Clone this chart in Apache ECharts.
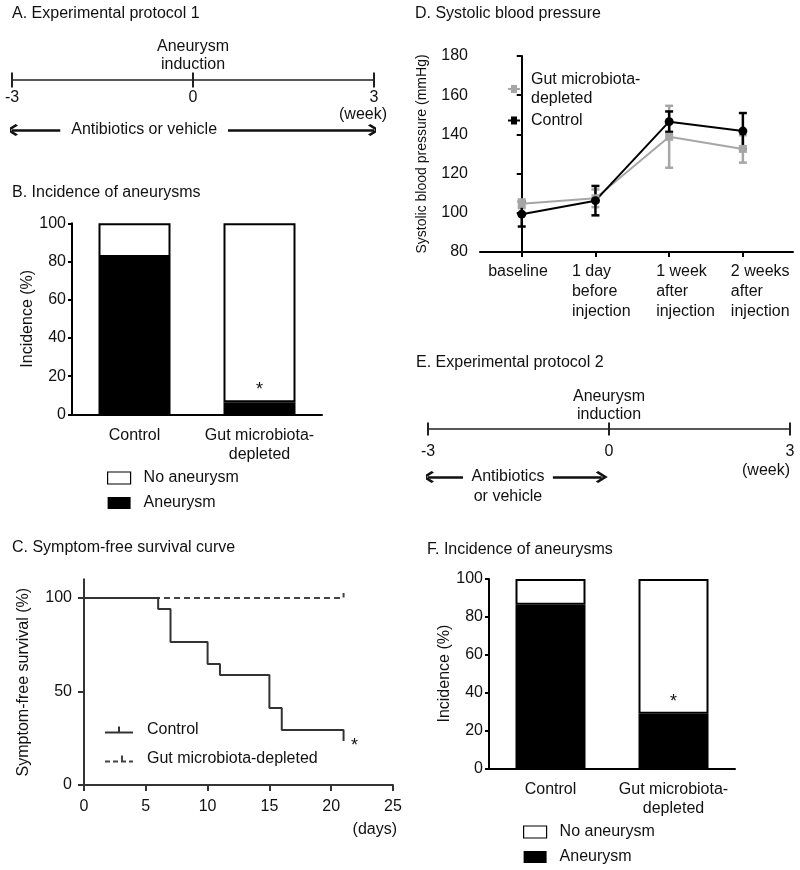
<!DOCTYPE html>
<html><head><meta charset="utf-8">
<script src="https://cdn.jsdelivr.net/npm/echarts@6/dist/echarts.min.js"></script>
<style>html,body{margin:0;padding:0;background:#fff}#c{width:800px;height:870px}</style>
</head><body><div id="c"></div>
<script>
// ---------- data ----------
const protocolTicks = [-3, 0, 3];
const protocolUnit = '(week)';
const inductionWeek = [0];
const inductionText = 'Aneurysm\ninduction';
const protocol1Arrows = [[-2.2, -3], [0.58, 3]];
const protocol1Text = 'Antibiotics or vehicle';
const protocol2Arrows = [[-2.42, -3], [-0.93, -0.12]];
const protocol2Text = 'Antibiotics\nor vehicle';

const incidenceCategories = ['Control', 'Gut microbiota-\ndepleted'];
const aneurysmB = [82.4, 6.3];
const aneurysmF = [86.4, 28.8];
const significanceB = ['', '*'];
const significanceF = ['', '*'];
const legendBars = ['No aneurysm', 'Aneurysm'];

const survivalControl = [[0,100],[6,94.1],[7,76.5],[10,64.7],[11,58.8],[15,41.2],[16,29.4],[21,23.5]];
const survivalDepleted = [[0,100],[21,100],[21,102.7]];
const survivalTicks = [0, 50, 100];
const survivalUnit = '(days)';
const survivalSignificance = '*';

const bpCategories = ['baseline', '1 day\nbefore\ninjection', '1 week\nafter\ninjection', '2 weeks\nafter\ninjection'];
const bpIndex = [0, 1, 2, 3];
const bpDepletedMean = [104.6, 107.4, 138.8, 132.6];
const bpDepletedSem  = [2.2, 4.5, 15.8, 7.0];
const bpControlMean  = [99.3, 106.2, 146.5, 141.7];
const bpControlSem   = [6.3, 7.5, 5.2, 9.2];

// ---------- styling ----------
const FONT = '"Liberation Sans", Arial, Helvetica, sans-serif';
const TXT = '#111';
const CHEVRON = 'path://M10,0 L20,10 L17.5,12.5 L10,5 L2.5,12.5 L0,10 Z';
const ICON_SOLID = 'path://M0,5 L28,5 L28,7 L0,7 Z M13,0 L15,0 L15,5 L13,5 Z';
const ICON_DASH = 'path://M0,5 L5,5 L5,7 L0,7 Z M8,5 L13,5 L13,7 L8,7 Z M16,0 L18,0 L18,5 L21,5 L21,7 L16,7 Z M24,5 L28,5 L28,7 L24,7 Z';
const ICON_MARK = 'path://M0,3 L12,3 L12,5 L0,5 Z M3,0 L9,0 L9,8 L3,8 Z';
const HIDDEN = {color:'rgba(0,0,0,0)', opacity:1};

function timelineX(gridIndex, offset, margin, nameGap, namePad) {
  return {type:'value', gridIndex, min:-3, max:3, interval:3, offset,
    axisLine:{onZero:false, lineStyle:{color:'#222', width:1.5}},
    axisTick:{show:false}, splitLine:{show:false},
    axisLabel:{fontSize:16, color:TXT, margin},
    name: protocolUnit, nameLocation:'end', nameGap, nameMoveOverlap:false,
    nameTextStyle:{fontSize:16, color:TXT, align:'right', verticalAlign:'top', padding:[namePad,0,0,0]}};
}
function timelineY(gridIndex) {
  return {type:'value', gridIndex, min:-1.5, max:1, show:false, splitLine:{show:false}};
}
function timelineSeries(idx, arrows, text, textOffset, tickH, indDist) {
  return [
    {type:'scatter', xAxisIndex:idx, yAxisIndex:idx, symbol:'rect', symbolSize:[2, tickH], silent:true,
     itemStyle:{color:'#222', opacity:1}, data: protocolTicks.map(t => [t, 0])},
    {type:'scatter', xAxisIndex:idx, yAxisIndex:idx, symbolSize:1, silent:true,
     itemStyle:HIDDEN, data: inductionWeek.map(w => [w, 0]),
     label:{show:true, position:'top', distance:indDist, formatter:inductionText, fontSize:16, lineHeight:18, color:TXT}},
    {type:'lines', coordinateSystem:'cartesian2d', xAxisIndex:idx, yAxisIndex:idx, silent:true,
     symbol:['none', CHEVRON], symbolSize:12,
     lineStyle:{color:'#111', width:2.5, opacity:1},
     data: arrows.map(([a, b]) => ({coords:[[a, -1], [b, -1]]}))},
    {type:'scatter', xAxisIndex:idx, yAxisIndex:idx, symbolSize:1, silent:true,
     itemStyle:HIDDEN, data:[[(arrows[0][0] + arrows[1][0]) / 2, -1]],
     label:{show:true, position:'inside', formatter:text, fontSize:16, lineHeight:20, color:TXT, offset:textOffset}}
  ];
}
function barX(gridIndex) {
  return {type:'category', gridIndex, data:incidenceCategories,
    axisLine:{lineStyle:{color:'#000', width:2}}, axisTick:{show:false},
    axisLabel:{interval:0, fontSize:16, lineHeight:19, color:TXT, margin:12}};
}
function barY(gridIndex) {
  return {type:'value', gridIndex, min:0, max:100, interval:20,
    axisLine:{show:true, lineStyle:{color:'#000', width:2}},
    axisTick:{show:true, length:4, lineStyle:{width:2, color:'#000'}},
    splitLine:{show:false},
    axisLabel:{fontSize:16, color:TXT, margin:6},
    name:'Incidence (%)', nameLocation:'middle', nameGap:35,
    nameTextStyle:{fontSize:16, color:TXT}};
}
function barSeries(idx, values, sig, width) {
  return [
    {name:'Aneurysm', type:'bar', xAxisIndex:idx, yAxisIndex:idx, stack:'s' + idx, barWidth:width,
     data:values, itemStyle:{color:'#000', borderColor:'#000', borderWidth:1.5}},
    {name:'No aneurysm', type:'bar', xAxisIndex:idx, yAxisIndex:idx, stack:'s' + idx, barWidth:width,
     data:values.map(v => 100 - v), itemStyle:{color:'#fff', borderColor:'#000', borderWidth:2},
     label:{show:true, position:'insideBottom', distance:3, fontSize:18, color:TXT,
            formatter:p => sig[p.dataIndex]}}
  ];
}
function barLegend(left, top) {
  return {orient:'vertical', left, top, padding:0, itemWidth:23, itemHeight:12, itemGap:9, icon:'rect',
    selectedMode:false,
    data:[{name:legendBars[0], itemStyle:{color:'#fff', borderColor:'#000', borderWidth:1.2}},
          {name:legendBars[1], itemStyle:{color:'#000', borderWidth:0}}],
    textStyle:{fontSize:16, lineHeight:16, color:TXT, padding:[0,0,0,8]}};
}
function errorBar(color) {
  return function (params, api) {
    const x = api.value(0), m = api.value(1), e = api.value(2);
    const hi = api.coord([x, m + e]), lo = api.coord([x, m - e]);
    const hw = 4, st = {stroke:color, lineWidth:2.5};
    return {type:'group', children:[
      {type:'line', shape:{x1:hi[0], y1:hi[1], x2:lo[0], y2:lo[1]}, style:st},
      {type:'line', shape:{x1:hi[0]-hw, y1:hi[1], x2:hi[0]+hw, y2:hi[1]}, style:st},
      {type:'line', shape:{x1:lo[0]-hw, y1:lo[1], x2:lo[0]+hw, y2:lo[1]}, style:st}
    ]};
  };
}
const bpLabelWidths = [67, 47, 26, 24];
const bpRich = {};
bpIndex.forEach(i => { bpRich['c' + i] = {width:bpLabelWidths[i], align:'left', fontSize:16, lineHeight:20, color:TXT}; });
const bpLegendNames = {'bp-depleted':'Gut microbiota-\ndepleted', 'bp-control':'Control'};

const titles = [
  ['A. Experimental protocol 1', 12, 6],
  ['B. Incidence of aneurysms', 12, 185],
  ['C. Symptom-free survival curve', 12, 540],
  ['D. Systolic blood pressure', 415, 6],
  ['E. Experimental protocol 2', 416, 355],
  ['F. Incidence of aneurysms', 427, 542]
].map(([text, left, top]) => ({text, left, top, padding:0,
  textStyle:{fontSize:16, fontWeight:'normal', color:TXT, fontFamily:FONT}}));

const option = {
  animation:false,
  backgroundColor:'#fff',
  textStyle:{fontFamily:FONT},
  title:titles,
  grid:[
    {left:12, top:30, width:362, height:125},
    {left:72, top:223.3, width:250, height:191},
    {left:84, top:579.3, width:309, height:205.7},
    {left:480, top:56, width:313, height:196},
    {left:428, top:381, width:362, height:120},
    {left:489, top:579, width:246, height:189.3}
  ],
  xAxis:[
    timelineX(0, -75, 10, 13, 27),
    barX(1),
    {type:'value', gridIndex:2, min:0, max:25, interval:5,
     axisLine:{lineStyle:{color:'#333', width:2}},
     axisTick:{length:6, lineStyle:{color:'#333', width:2}},
     splitLine:{show:false},
     axisLabel:{fontSize:16, color:TXT, margin:14},
     name:survivalUnit, nameLocation:'end', nameGap:4, nameMoveOverlap:false,
     nameTextStyle:{fontSize:16, color:TXT, align:'right', verticalAlign:'top', padding:[37,0,0,0]}},
    {type:'value', gridIndex:3, min:-0.566, max:3.68,
     axisLine:{lineStyle:{color:'#000', width:2}},
     axisTick:{customValues:bpIndex, length:5, lineStyle:{color:'#000', width:2}},
     splitLine:{show:false},
     axisLabel:{customValues:bpIndex, margin:10, fontSize:16, lineHeight:20, color:TXT,
       formatter:v => '{c' + v + '|' + bpCategories[v] + '}', rich:bpRich}},
    timelineX(4, -72, 15, 0, 34),
    barX(5)
  ],
  yAxis:[
    timelineY(0),
    barY(1),
    {type:'value', gridIndex:2, min:0, max:110,
     axisLine:{show:true, lineStyle:{color:'#333', width:2}},
     axisTick:{show:true, customValues:survivalTicks, length:6, lineStyle:{color:'#333', width:2}},
     axisLabel:{customValues:survivalTicks, fontSize:16, color:TXT, margin:12},
     splitLine:{show:false},
     name:'Symptom-free survival (%)', nameLocation:'middle', nameGap:52,
     nameTextStyle:{fontSize:16, color:TXT}},
    {type:'value', gridIndex:3, min:80, max:180, interval:20,
     axisLine:{show:true, lineStyle:{color:'#000', width:2}},
     axisTick:{show:true, length:5, lineStyle:{color:'#000', width:2}},
     axisLabel:{fontSize:16, color:TXT, margin:12},
     splitLine:{show:false},
     name:'Systolic blood pressure (mmHg)', nameLocation:'middle', nameGap:51,
     nameTextStyle:{fontSize:14, color:TXT}},
    timelineY(4),
    barY(5)
  ],
  legend:[
    barLegend(107, 470),
    {orient:'vertical', left:105, top:722, padding:0, itemWidth:28, itemHeight:7, itemGap:13, selectedMode:false,
     data:[{name:'Control', icon:ICON_SOLID}, {name:'Gut microbiota-depleted', icon:ICON_DASH}],
     textStyle:{fontSize:16, lineHeight:16, color:TXT, padding:[0,0,0,9]}},
    {orient:'vertical', left:508, top:70, padding:0, itemWidth:12, itemHeight:8, itemGap:3, selectedMode:false,
     data:[{name:'bp-depleted', icon:ICON_MARK}, {name:'bp-control', icon:ICON_MARK}],
     formatter:n => bpLegendNames[n],
     textStyle:{fontSize:16, lineHeight:19, color:TXT, padding:[0,0,0,6]}},
    barLegend(523, 824)
  ],
  series:[
    ...timelineSeries(0, protocol1Arrows, protocol1Text, [0, 0], 15, 6),
    ...barSeries(1, aneurysmB, significanceB, 72),
    {name:'Gut microbiota-depleted', type:'line', xAxisIndex:2, yAxisIndex:2, symbol:'none',
     data:survivalDepleted, lineStyle:{color:'#444', width:2, type:[6,4]}, itemStyle:{color:'#444'}},
    {name:'Control', type:'line', xAxisIndex:2, yAxisIndex:2, step:'end', symbol:'none',
     data:survivalControl, lineStyle:{color:'#333', width:2}, itemStyle:{color:'#333'}},
    {type:'scatter', xAxisIndex:2, yAxisIndex:2, symbolSize:1, silent:true,
     itemStyle:HIDDEN, data:[survivalControl[survivalControl.length - 1]],
     label:{show:true, position:'right', distance:7, offset:[0,5], formatter:survivalSignificance, fontSize:18, color:TXT}},
    {type:'custom', name:'bp-depleted-err', xAxisIndex:3, yAxisIndex:3, silent:true,
     renderItem:errorBar('#a6a6a6'), encode:{x:0, y:1},
     data:bpIndex.map(i => [i, bpDepletedMean[i], bpDepletedSem[i]])},
    {name:'bp-depleted', type:'line', xAxisIndex:3, yAxisIndex:3, symbol:'rect', symbolSize:8,
     data:bpIndex.map(i => [i, bpDepletedMean[i]]),
     lineStyle:{color:'#a6a6a6', width:2}, itemStyle:{color:'#a6a6a6'}},
    {type:'custom', name:'bp-control-err', xAxisIndex:3, yAxisIndex:3, silent:true,
     renderItem:errorBar('#000'), encode:{x:0, y:1},
     data:bpIndex.map(i => [i, bpControlMean[i], bpControlSem[i]])},
    {name:'bp-control', type:'line', xAxisIndex:3, yAxisIndex:3, symbol:'circle', symbolSize:9,
     data:bpIndex.map(i => [i, bpControlMean[i]]),
     lineStyle:{color:'#000', width:2}, itemStyle:{color:'#000'}},
    ...timelineSeries(4, protocol2Arrows, protocol2Text, [0, 10], 13, 5),
    ...barSeries(5, aneurysmF, significanceF, 70)
  ]
};
const chart = echarts.init(document.getElementById('c'), null, {renderer:'canvas'});
chart.setOption(option);
</script></body></html>
